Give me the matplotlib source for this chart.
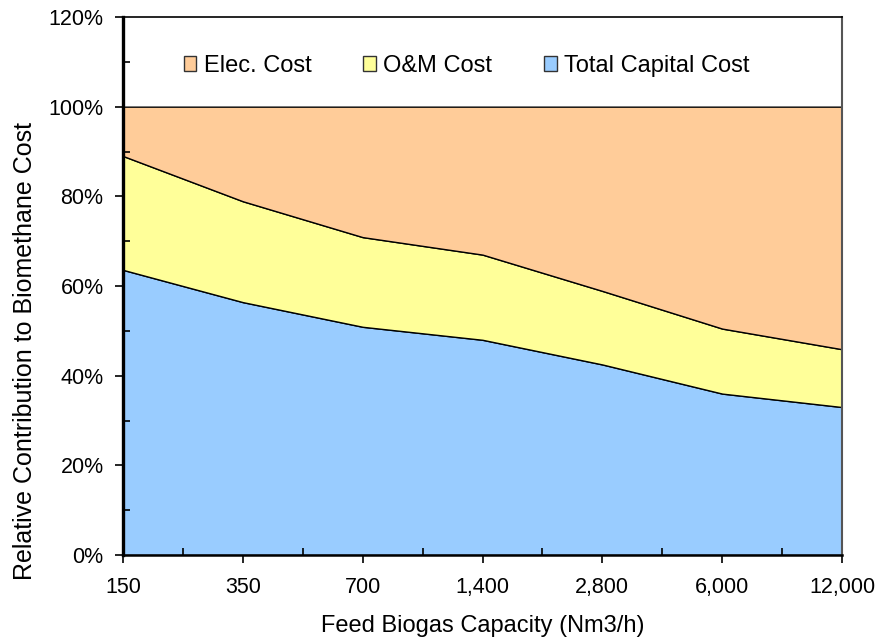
import matplotlib
matplotlib.use("Agg")
import matplotlib.pyplot as plt
from matplotlib.ticker import FixedLocator, FuncFormatter, MultipleLocator
from matplotlib.patches import Patch

plt.rcParams['font.family'] = ['Liberation Sans', 'DejaVu Sans']

capacities = ["150", "350", "700", "1,400", "2,800", "6,000", "12,000"]
capital_cost = [63.6, 56.4, 50.9, 48.0, 42.5, 36.0, 33.0]
om_cost = [25.4, 22.5, 20.0, 19.0, 16.4, 14.5, 12.9]
elec_cost = [11.0, 21.1, 29.1, 33.0, 41.1, 49.5, 54.1]

series_names = ["Total Capital Cost", "O&M Cost", "Elec. Cost"]
series_colors = ["#99CCFF", "#FFFF99", "#FFCC99"]

fig = plt.figure(figsize=(8.77, 6.4), dpi=100)
ax = fig.add_axes([123 / 877, 1 - 555 / 640, 719 / 877, 538 / 640])

x = list(range(len(capacities)))
ax.stackplot(x, capital_cost, om_cost, elec_cost,
             colors=series_colors, edgecolor="black", linewidth=1.0)

ax.set_xlim(0, len(capacities) - 1)
ax.set_ylim(0, 120)

ax.xaxis.set_major_locator(FixedLocator(x))
ax.set_xticklabels(capacities)
ax.xaxis.set_minor_locator(FixedLocator([i + 0.5 for i in x[:-1]]))
ax.yaxis.set_major_locator(MultipleLocator(20))
ax.yaxis.set_minor_locator(MultipleLocator(10))
ax.yaxis.set_major_formatter(FuncFormatter(lambda v, p: f"{v:.0f}%"))

ax.tick_params(which="major", direction="out", length=6, width=1.2,
               labelsize=15.5)
ax.tick_params(axis="x", which="major", pad=10)
ax.tick_params(axis="y", which="major", pad=8)
ax.tick_params(which="minor", direction="in", length=5, width=1.2)

ax.spines["left"].set_linewidth(2.4)
ax.spines["bottom"].set_linewidth(1.8)
ax.spines["top"].set_linewidth(1.2)
ax.spines["right"].set_linewidth(1.5)
ax.spines["right"].set_color("#555555")

ax.set_xlabel("Feed Biogas Capacity (Nm3/h)", fontsize=17)
ax.xaxis.set_label_coords(0.5, -0.112)
ax.set_ylabel("Relative Contribution to Biomethane Cost", fontsize=18)
ax.yaxis.set_label_coords(-0.12, 0.38)

handles = [Patch(facecolor=series_colors[i], edgecolor="#333333", linewidth=1.0)
           for i in (2, 1, 0)]
labels = [series_names[i] for i in (2, 1, 0)]
ax.legend(handles, labels, loc="center", bbox_to_anchor=(0.478, 109.1 / 120),
          ncol=3, frameon=False, fontsize=17, handlelength=0.55,
          handleheight=0.55, handletextpad=0.3, columnspacing=2.2,
          borderpad=0.0)

fig.savefig("out.png", dpi=100)
